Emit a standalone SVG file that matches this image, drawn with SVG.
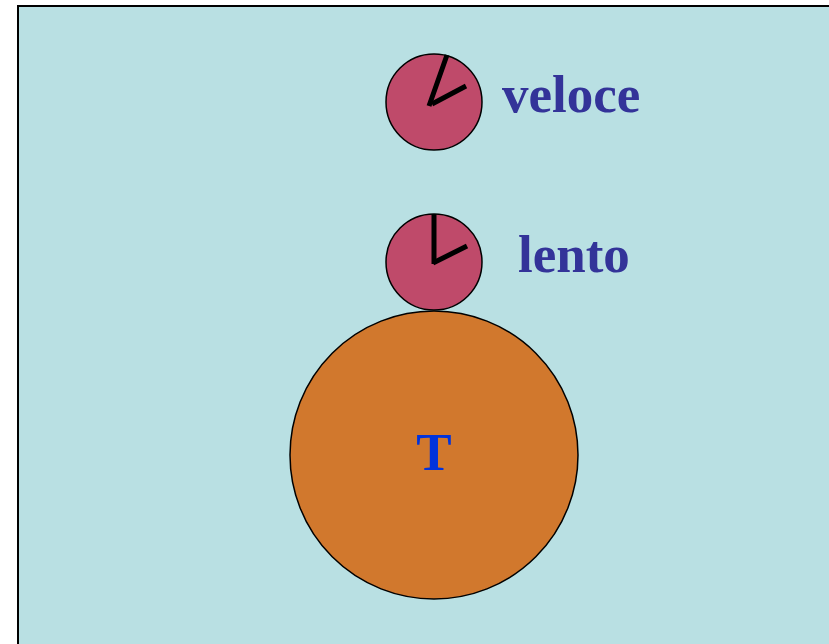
<svg xmlns="http://www.w3.org/2000/svg" width="829" height="644" viewBox="0 0 829 644">
<style>
.clock{fill:#bf4a6a;stroke:#000;stroke-width:1.5}
.hand{stroke:#000;stroke-width:5;stroke-linecap:butt}
.lbl{font-family:"Liberation Serif",serif;font-weight:bold;font-size:53px;fill:#333399}
</style>
<rect x="0" y="0" width="829" height="644" fill="#ffffff"/>
<rect x="18" y="6" width="830" height="660" fill="#b9e0e3" stroke="#000" stroke-width="2"/>
<g id="earth">
<circle cx="434" cy="455" r="144" fill="#d1782d" stroke="#000" stroke-width="1.5"/>
<text x="434" y="470" text-anchor="middle" font-family="Liberation Serif,serif" font-weight="bold" font-size="53" fill="#0033dd">T</text>
</g>
<g id="clock-veloce">
<circle class="clock" cx="434" cy="102" r="48"/>
<line class="hand" x1="429" y1="106" x2="447" y2="55"/>
<line class="hand" x1="432" y1="104" x2="466" y2="86"/>
<text class="lbl" x="502" y="112">veloce</text>
</g>
<g id="clock-lento">
<circle class="clock" cx="434" cy="262" r="48"/>
<line class="hand" x1="434" y1="264" x2="434" y2="214"/>
<line class="hand" x1="433" y1="263" x2="467" y2="246"/>
<text class="lbl" x="518" y="272">lento</text>
</g>
<g id="connectors"></g>
</svg>
